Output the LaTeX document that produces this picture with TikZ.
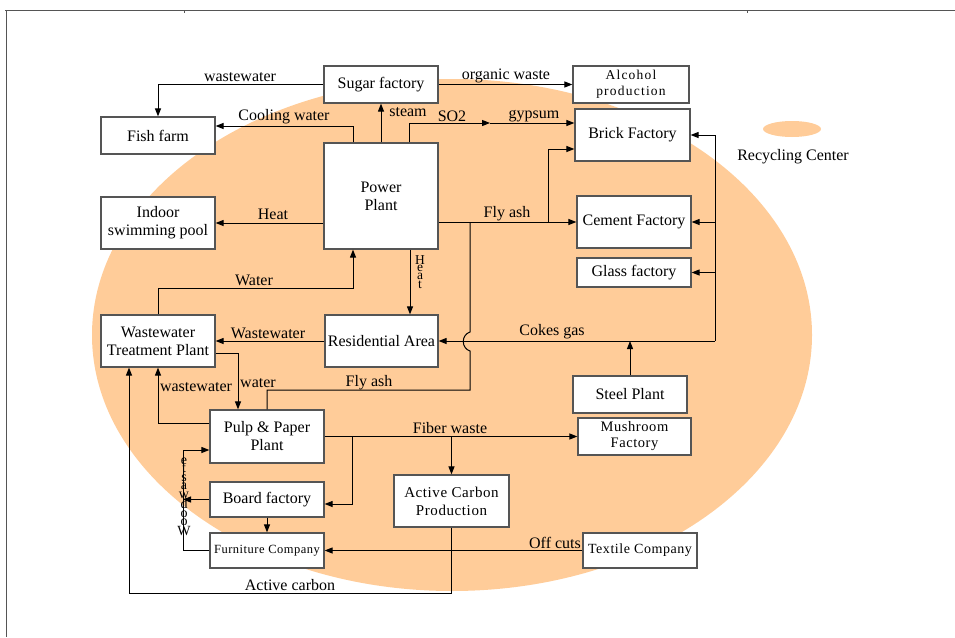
\documentclass[tikz,border=0pt]{standalone}
\usepackage{fontspec}
\setmainfont{Liberation Serif}
\newfontfamily\spacedfont[LetterSpace=9]{Liberation Serif}
\newfontfamily\lspacedfont[LetterSpace=4]{Liberation Serif}
\usetikzlibrary{arrows.meta}
\definecolor{bg}{HTML}{FFCC99}
\definecolor{frame}{HTML}{555555}
\begin{document}
\begin{tikzpicture}[x=1pt,y=-1pt,
  box/.style={draw=frame,line width=1.2pt,fill=white,inner sep=0pt,align=center,
    font=\fontsize{16}{18}\selectfont},
  lbl/.style={font=\fontsize{16}{18}\selectfont,inner sep=1pt},
  arr/.style={-{Triangle[length=8pt,width=6pt]}},
  ln/.style={line width=1pt,draw=black}]
\useasboundingbox (0,0) rectangle (955,637);
% background
\fill[bg] (452,335) ellipse (360 and 256);
\fill[bg] (792,129) ellipse (29 and 8);
\node[lbl] (legend) at (793,157) {Recycling Center};
% frame
\draw[frame,line width=1pt] (5,10) -- (955,10);
\draw[frame,line width=1pt] (6,10) -- (6,637);
\draw[frame] (184,10) -- (184,13);
\draw[frame] (747,10) -- (747,13);
% boxes
\node[box,minimum width=114,minimum height=37] (sugar) at (381,84.5) {Sugar factory};
\node[box,minimum width=116,minimum height=37,font=\spacedfont\fontsize{13.5}{16}\selectfont] (alcohol) at (631,84.5) {Alcohol\\production};
\node[box,minimum width=114,minimum height=37] (fish) at (158,135.5) {Fish farm};
\node[box,minimum width=115,minimum height=52] (brick) at (632.5,135) {Brick Factory};
\node[box,minimum width=114,minimum height=106] (power) at (381,196) {Power\\Plant};
\node[box,minimum width=114,minimum height=52] (pool) at (158,223) {Indoor\\swimming pool};
\node[box,minimum width=114,minimum height=52] (cement) at (634,222) {Cement Factory};
\node[box,minimum width=114,minimum height=29] (glass) at (634,272.5) {Glass factory};
\node[box,minimum width=114,minimum height=52] (wwtp) at (158,341) {Wastewater\\Treatment Plant};
\node[box,minimum width=113,minimum height=52] (resid) at (381.5,341) {Residential Area};
\node[box,minimum width=114,minimum height=37] (steel) at (630,394.5) {Steel Plant};
\node[box,minimum width=113,minimum height=37,font=\lspacedfont\fontsize{14.5}{16}\selectfont] (mush) at (634.5,436.5) {Mushroom\\Factory};
\node[box,minimum width=114,minimum height=53] (pulp) at (267,436.5) {Pulp \& Paper\\Plant};
\node[box,minimum width=114,minimum height=35] (board) at (267,499.5) {Board factory};
\node[box,minimum width=114,minimum height=35,font=\lspacedfont\fontsize{12.5}{14}\selectfont] (furn) at (267,550.5) {Furniture Company};
\node[box,minimum width=115,minimum height=52,font=\lspacedfont\fontsize{15}{18}\selectfont] (acp) at (451.5,501) {Active Carbon\\Production};
\node[box,minimum width=114,minimum height=35,font=\lspacedfont\fontsize{14}{16}\selectfont] (textile) at (640,550.5) {Textile Company};
% coordinates
\coordinate (gyp) at (490,123);
\coordinate (cr) at (715,341);
% connectors
\draw[ln,arr] (sugar.west) -| (fish.north);
\node[lbl,fill=white] (l1) at (240,77) {wastewater};
\draw[ln,arr] (power.north -| 353,0) |- (fish.east |- 0,126);
\node[lbl] (l2) at (284,117) {Cooling water};
\draw[ln,arr] (power.north) -- (sugar.south);
\node[lbl] (l3) at (408,112) {steam};
\draw[ln,arr] (power.north -| 409,0) |- (gyp);
\draw[ln,arr] (gyp) -- (brick.west |- gyp);
\node[lbl] (l4) at (452,116) {SO2};
\node[lbl] (l5) at (534,116) {gypsum};
\draw[ln,arr] (sugar.east) -- (alcohol.west);
\node[lbl] (l6) at (506,76) {organic waste};
\draw[ln,arr] (power.west |- pool.east) -- (pool.east);
\node[lbl] (l7) at (273,214) {Heat};
\draw[ln,arr] (wwtp.north) -- (wwtp.north |- 0,288) -| (power.south -| 353,0);
\node[lbl] (l8) at (254,280) {Water};
\draw[ln,arr] (power.south -| 410,0) -- (resid.north -| 410,0);
\node[inner sep=0pt,align=center,font=\fontsize{13.5}{7.4}\selectfont] (l9) at (420,272) {H\\e\\a\\t};
\draw[ln,arr] (power.east |- cement.west) -- (cement.west);
\node[lbl] (l10) at (507,214) {Fly ash};
\draw[ln,arr] (cement.west -| 548,0) |- (brick.west |- 0,149);
\draw[ln] (cement.west -| 470,0) -- (470,332) .. controls (461,335) and (461,348) .. (470,351) -- (470,390) -- (pulp.north |- 0,390) -- (pulp.north);
\node[lbl] (l11) at (369,383) {Fly ash};
\draw[ln,arr] (cr) -- (resid.east);
\draw[ln,arr] (cr) |- (brick.east);
\draw[ln,arr] (cr |- cement.east) -- (cement.east);
\draw[ln,arr] (cr |- glass.east) -- (glass.east);
\draw[ln,arr] (steel.north) -- (steel.north |- cr);
\node[lbl] (l12) at (552,332) {Cokes gas};
\draw[ln,arr] (resid.west) -- (wwtp.east);
\node[lbl] (l13) at (268,333) {Wastewater};
\draw[ln,arr] (wwtp.east |- 0,353) -| (pulp.north -| 238,0);
\node[lbl] (l14) at (258,383) {water};
\draw[ln,arr] (pulp.west |- 0,423) -| (wwtp.south);
\node[lbl] (l15) at (196,387) {wastewater};
\draw[ln,arr] (acp.south) -- (acp.south |- 0,593) -| (wwtp.south -| 129,0);
\node[lbl] (l16) at (290,585) {Active carbon};
\draw[ln,arr] (pulp.east) -- (mush.west);
\node[lbl] (l17) at (450,428) {Fiber waste};
\draw[ln,arr] (acp.north |- pulp.east) -- (acp.north);
\draw[ln,arr] (pulp.east -| 352,0) |- (board.east |- 0,504);
\draw[ln,arr] (board.south) -- (furn.north);
\draw[ln,arr] (textile.west) -- (furn.east);
\node[lbl] (l18) at (555,543) {Off cuts};
\draw[ln,arr] (furn.west) -- (furn.west -| 183,0) -- (183,450) -- (pulp.west |- 0,450);
\draw[ln,arr] (board.west) -- (board.west -| 183,0);
\node[inner sep=0pt,align=center,font=\fontsize{14}{8.4}\selectfont] (l19) at (184,497) {e\\t\\s\\a\\w\\d\\o\\o\\W};
\end{tikzpicture}
\end{document}
